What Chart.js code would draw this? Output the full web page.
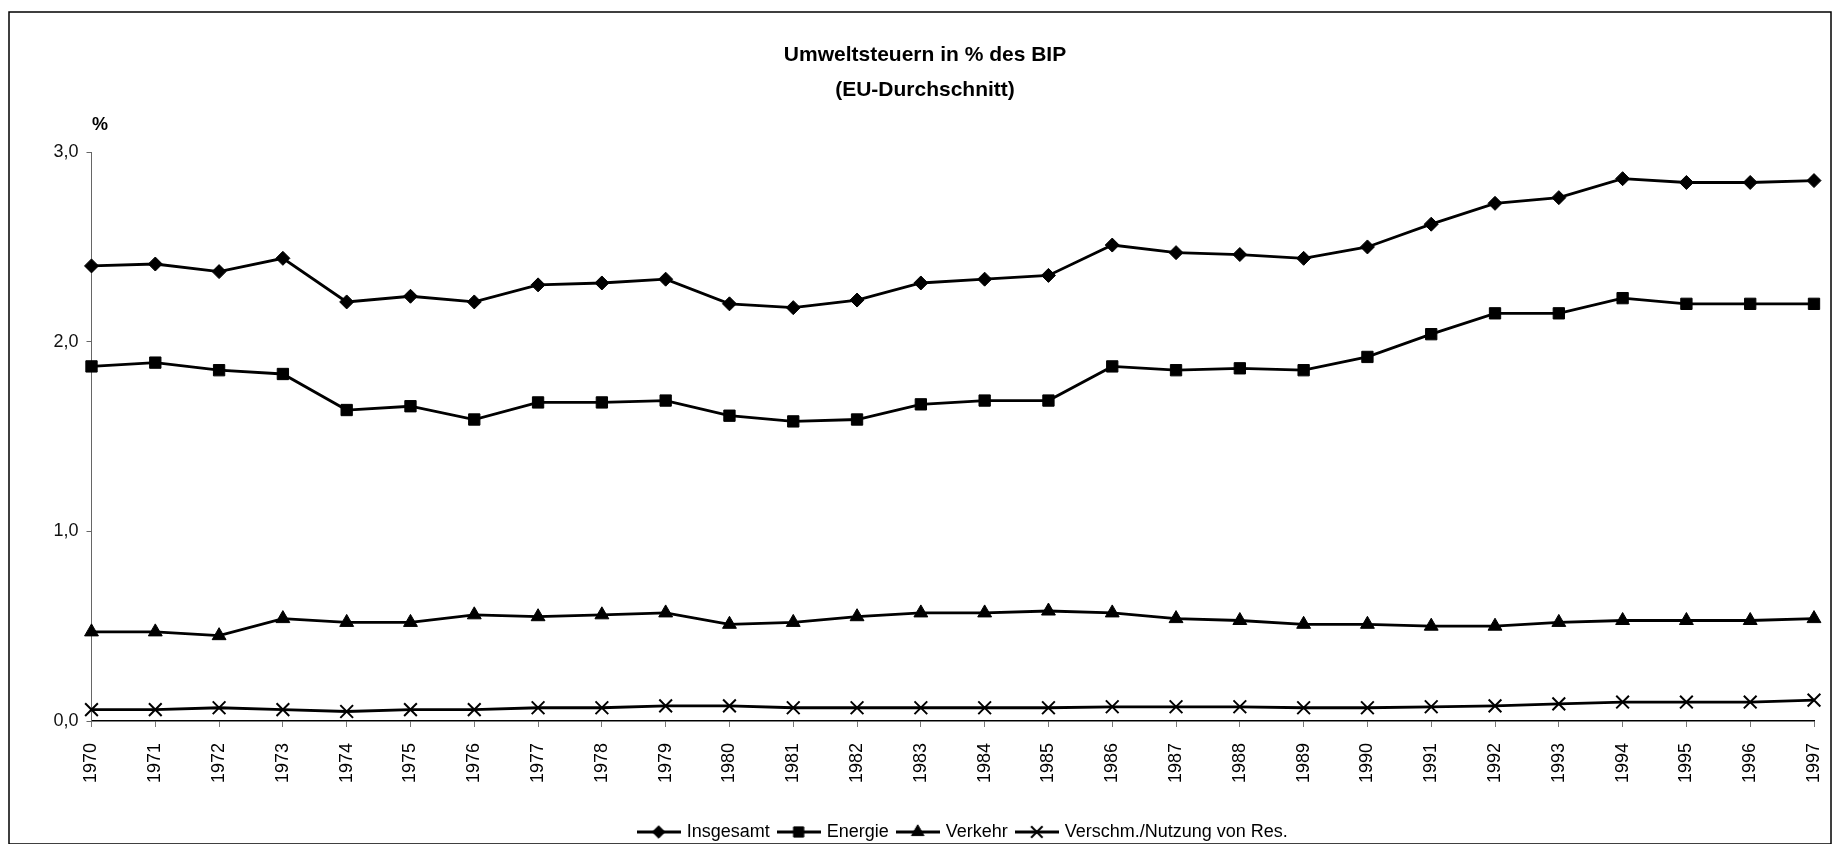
<!DOCTYPE html>
<html>
<head>
<meta charset="utf-8">
<script src="https://cdn.jsdelivr.net/npm/chart.js"></script>
<style>
  html, body { margin: 0; padding: 0; background: #fff; }
  #c { display: block; }
</style>
</head>
<body>
<canvas id="c" width="1832" height="844"></canvas>
<script>
const years = ['1970','1971','1972','1973','1974','1975','1976','1977','1978','1979','1980','1981','1982','1983','1984','1985','1986','1987','1988','1989','1990','1991','1992','1993','1994','1995','1996','1997'];
const insgesamt = [2.40, 2.41, 2.37, 2.44, 2.21, 2.24, 2.21, 2.30, 2.31, 2.33, 2.20, 2.18, 2.22, 2.31, 2.33, 2.35, 2.51, 2.47, 2.46, 2.44, 2.50, 2.62, 2.73, 2.76, 2.86, 2.84, 2.84, 2.85];
const energie = [1.87, 1.89, 1.85, 1.83, 1.64, 1.66, 1.59, 1.68, 1.68, 1.69, 1.61, 1.58, 1.59, 1.67, 1.69, 1.69, 1.87, 1.85, 1.86, 1.85, 1.92, 2.04, 2.15, 2.15, 2.23, 2.20, 2.20, 2.20];
const verkehr = [0.47, 0.47, 0.45, 0.54, 0.52, 0.52, 0.56, 0.55, 0.56, 0.57, 0.51, 0.52, 0.55, 0.57, 0.57, 0.58, 0.57, 0.54, 0.53, 0.51, 0.51, 0.50, 0.50, 0.52, 0.53, 0.53, 0.53, 0.54];
const verschm = [0.06, 0.06, 0.07, 0.06, 0.05, 0.06, 0.06, 0.07, 0.07, 0.08, 0.08, 0.07, 0.07, 0.07, 0.07, 0.07, 0.075, 0.075, 0.075, 0.07, 0.07, 0.075, 0.08, 0.09, 0.10, 0.10, 0.10, 0.11];
const seriesNames = ['Insgesamt', 'Energie', 'Verkehr', 'Verschm./Nutzung von Res.'];
const yTickLabels = ['0,0', '1,0', '2,0', '3,0'];
const titleLines = ['Umweltsteuern in % des BIP', '(EU-Durchschnitt)'];
const unitLabel = '%';

const FONT = "'Liberation Sans', Arial, sans-serif";
const markerStyles = [
  { pointStyle: 'rectRot', radius: 7, borderWidth: 1 },
  { pointStyle: 'rect', radius: 8, borderWidth: 1 },
  { pointStyle: 'triangle', radius: 8, borderWidth: 1 },
  { pointStyle: 'crossRot', radius: 9, borderWidth: 2 }
];

function makeLegendImage(ms) {
  const cv = document.createElement('canvas');
  cv.width = 44; cv.height = 20;
  const ctx = cv.getContext('2d');
  ctx.strokeStyle = '#000';
  ctx.lineWidth = 3;
  ctx.beginPath(); ctx.moveTo(0, 10); ctx.lineTo(44, 10); ctx.stroke();
  ctx.fillStyle = '#000';
  ctx.lineWidth = ms.borderWidth;
  Chart.helpers.drawPoint(ctx, { pointStyle: ms.pointStyle, radius: ms.radius * 0.9, borderWidth: ms.borderWidth, rotation: 0 }, 22, 10);
  return cv;
}
const legendImages = markerStyles.map(makeLegendImage);

const allValues = [insgesamt, energie, verkehr, verschm];
const datasets = allValues.map((vals, i) => ({
  label: seriesNames[i],
  data: vals,
  borderColor: '#000',
  backgroundColor: '#000',
  borderWidth: 2.8,
  tension: 0,
  pointStyle: markerStyles[i].pointStyle,
  pointRadius: markerStyles[i].radius,
  pointBorderWidth: markerStyles[i].borderWidth,
  pointBackgroundColor: '#000',
  pointBorderColor: '#000'
}));

const decor = {
  id: 'decor',
  afterLayout(chart) {
    if (chart.legend) { chart.legend.left += 11; chart.legend.right += 11; }
  },
  afterDraw(chart) {
    const ctx = chart.ctx;
    ctx.save();
    ctx.strokeStyle = '#000';
    ctx.lineWidth = 1.5;
    ctx.strokeRect(9, 12, 1822, 832);
    ctx.fillStyle = '#000';
    ctx.font = "bold 18px " + FONT;
    ctx.textAlign = 'center';
    ctx.textBaseline = 'middle';
    ctx.fillText(unitLabel, 100, 125);
    ctx.restore();
  }
};

new Chart(document.getElementById('c'), {
  type: 'line',
  data: { labels: years, datasets },
  options: {
    responsive: false,
    animation: false,
    layout: { padding: { left: 36, right: 18, top: 0, bottom: -7 } },
    plugins: {
      title: {
        display: true,
        text: titleLines,
        color: '#000',
        font: { family: FONT, size: 21, weight: 'bold', lineHeight: 1.67 },
        padding: { top: 37.5, bottom: 44.5 }
      },
      legend: {
        position: 'bottom',
        fullSize: false,
        labels: {
          usePointStyle: true,
          pointStyleWidth: 38,
          padding: 10,
          color: '#000',
          font: { family: FONT, size: 18 },
          generateLabels(chart) {
            const items = Chart.defaults.plugins.legend.labels.generateLabels(chart);
            items.forEach((it, i) => { it.pointStyle = legendImages[i]; });
            return items;
          }
        }
      },
      tooltip: { enabled: false }
    },
    scales: {
      x: {
        type: 'category',
        offset: false,
        grid: { drawOnChartArea: false, drawTicks: true, tickLength: 6, color: '#777', lineWidth: 1 },
        border: { display: true, color: '#000', width: 1.5 },
        ticks: {
          autoSkip: false,
          minRotation: 90,
          maxRotation: 90,
          padding: 16,
          color: '#000',
          font: { family: FONT, size: 18 }
        },
        afterFit(scale) {
          scale.height = 92;
          scale.paddingLeft = 10;
          scale.paddingRight = 10;
        }
      },
      y: {
        min: 0,
        max: 3,
        grid: { drawOnChartArea: false, drawTicks: true, tickLength: 5, color: '#666', lineWidth: 1 },
        border: { display: true, color: '#666', width: 1 },
        ticks: {
          stepSize: 1,
          padding: 8,
          color: '#111',
          font: { family: FONT, size: 18 },
          callback: (v) => yTickLabels[Math.round(v)]
        },
        afterFit(scale) { scale.width = 55.5; }
      }
    }
  },
  plugins: [decor]
});
</script>
</body>
</html>
